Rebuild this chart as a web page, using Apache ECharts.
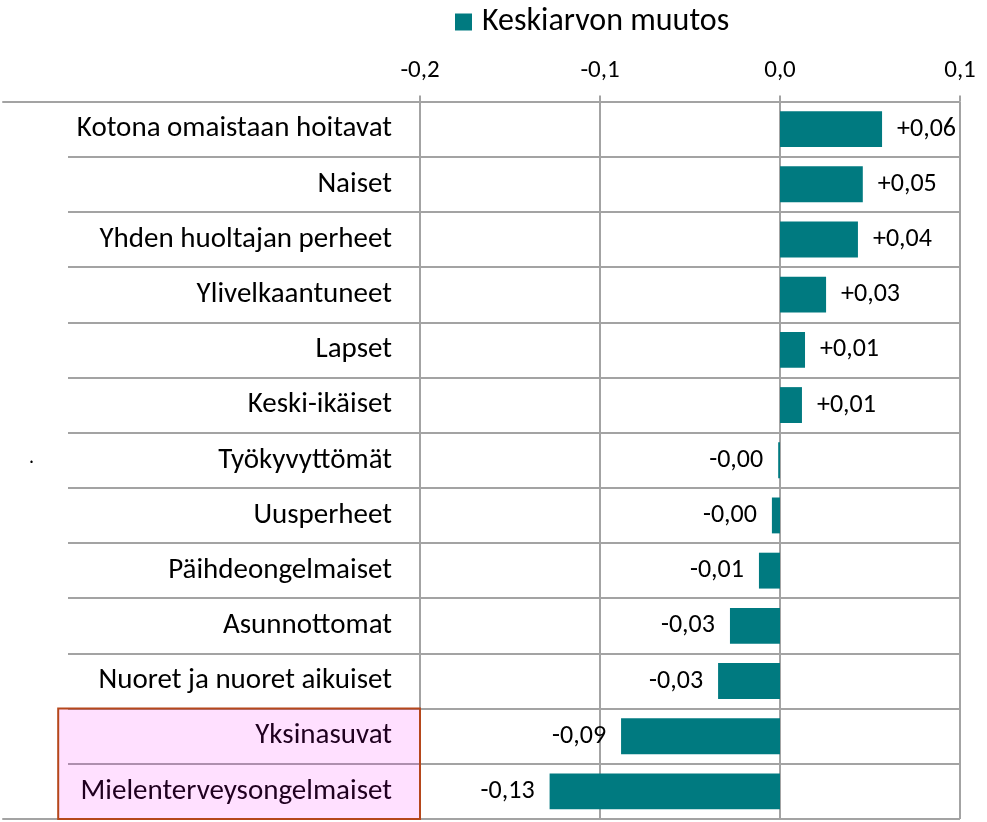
<!DOCTYPE html>
<html>
<head>
<meta charset="utf-8">
<script src="https://cdn.jsdelivr.net/npm/echarts@6/dist/echarts.min.js"></script>
<style>
  html, body { margin: 0; padding: 0; background: #fff; }
  #chart { width: 987px; height: 822px; }
</style>
</head>
<body>
<div id="chart"></div>
<script>
const categories = [
  'Kotona omaistaan hoitavat', 'Naiset', 'Yhden huoltajan perheet', 'Ylivelkaantuneet',
  'Lapset', 'Keski-ikäiset', 'Työkyvyttömät', 'Uusperheet', 'Päihdeongelmaiset',
  'Asunnottomat', 'Nuoret ja nuoret aikuiset', 'Yksinasuvat', 'Mielenterveysongelmaiset'
];
const values = [0.0567, 0.046, 0.0433, 0.0256, 0.0139, 0.0122, -0.001, -0.0045, -0.0117, -0.0278, -0.0344, -0.0883, -0.128];
const xTicks = [-0.2, -0.1, 0.0, 0.1];
const seriesName = 'Keskiarvon muutos';
const highlighted = ['Yksinasuvat', 'Mielenterveysongelmaiset'];
const highlightRange = [-0.401, -0.2];
const strayText = '.';

const FONT = "Carlito, Calibri, 'Liberation Sans', Arial, sans-serif";
const GRID_COLOR = '#a3a3a3';
const xMin = xTicks[0], xMax = xTicks[xTicks.length - 1], xStep = 0.1;
const pxPerUnit = 540 / (xMax - xMin);
const leftMin = xMin - (420 - 3) / pxPerUnit;

function fmt(v) {
  const s = v.toFixed(2).replace('.', ',');
  return v > 0 ? '+' + s : s;
}

const barData = values.map(v => ({
  value: v,
  label: { position: v >= 0 ? 'right' : 'left' }
}));

const hiStart = categories.indexOf(highlighted[0]);
const hiEnd = categories.indexOf(highlighted[highlighted.length - 1]);

const chart = echarts.init(document.getElementById('chart'), null, { renderer: 'canvas' });
const gridTop = 101.5, gridBottom = 3;

chart.setOption({
  animation: false,
  backgroundColor: '#ffffff',
  textStyle: { fontFamily: FONT },
  legend: {
    data: [seriesName],
    left: 455, top: 6, padding: 0,
    itemWidth: 17, itemHeight: 17,
    icon: 'rect',
    textStyle: { fontSize: 32, color: '#000', fontFamily: FONT, padding: [0, 0, 0, 5] }
  },
  grid: [
    { left: 420, right: 27, top: gridTop, bottom: gridBottom },
    { left: 3, width: 417, top: gridTop, bottom: gridBottom },
    { left: 68, width: 352, top: gridTop, bottom: gridBottom }
  ],
  xAxis: [
    {
      gridIndex: 0, type: 'value', position: 'top',
      min: xMin, max: xMax, interval: xStep,
      axisLine: { show: false },
      axisTick: { show: true, length: 6, lineStyle: { color: GRID_COLOR, width: 2 } },
      axisLabel: { fontSize: 25, color: '#000', margin: 18, fontFamily: FONT,
        formatter: v => v.toFixed(1).replace('.', ',') },
      splitLine: { show: true, lineStyle: { color: GRID_COLOR, width: 2 } }
    },
    {
      gridIndex: 1, type: 'value', position: 'top', min: leftMin, max: xMin,
      axisLine: { show: true, onZero: false, lineStyle: { color: GRID_COLOR, width: 2 } },
      axisTick: { show: false }, axisLabel: { show: false }, splitLine: { show: false }
    },
    {
      gridIndex: 1, type: 'value', position: 'bottom', min: leftMin, max: xMin,
      axisLine: { show: true, onZero: false, lineStyle: { color: GRID_COLOR, width: 2 } },
      axisTick: { show: false }, axisLabel: { show: false }, splitLine: { show: false }
    },
    {
      gridIndex: 2, type: 'value', min: 0, max: 1, show: false
    }
  ],
  yAxis: [
    {
      gridIndex: 0, type: 'category', data: categories, inverse: true,
      axisLine: { show: false, onZero: false },
      axisTick: { show: false },
      axisLabel: { fontSize: 29, color: '#000', margin: 28, fontFamily: FONT },
      splitLine: { show: true, lineStyle: { color: GRID_COLOR, width: 2 } }
    },
    {
      gridIndex: 1, type: 'category', data: categories, inverse: true,
      axisLine: { show: false }, axisTick: { show: false },
      axisLabel: { show: false }, splitLine: { show: false }
    },
    {
      gridIndex: 2, type: 'category', data: categories, inverse: true,
      axisLine: { show: false }, axisTick: { show: false },
      axisLabel: { show: false },
      splitLine: { show: true, lineStyle: { color: GRID_COLOR, width: 2 } }
    }
  ],
  series: [
    {
      name: seriesName, type: 'bar', xAxisIndex: 0, yAxisIndex: 0,
      data: barData,
      barWidth: '65%',
      itemStyle: { color: '#007a80' },
      label: {
        show: true, distance: 15, fontSize: 26, color: '#000', fontFamily: FONT,
        formatter: p => fmt(p.value)
      }
    },
    {
      name: 'highlight', type: 'custom', xAxisIndex: 1, yAxisIndex: 1,
      z: 10, silent: true, clip: false,
      encode: { x: [0, 1], y: [2, 3] },
      data: [[highlightRange[0], highlightRange[1], hiStart, hiEnd]],
      renderItem: function (params, api) {
        const p0 = api.coord([api.value(0), api.value(2)]);
        const p1 = api.coord([api.value(1), api.value(3)]);
        const band = api.size([0, 1])[1];
        const y0 = p0[1] - band / 2;
        const y1 = p1[1] + band / 2;
        return {
          type: 'rect',
          shape: { x: p0[0], y: y0, width: p1[0] - p0[0], height: y1 - y0 },
          style: { fill: 'rgba(255,0,255,0.12)', stroke: '#b5471b', lineWidth: 2 }
        };
      }
    }
  ],
  graphic: [
    { type: 'text', left: 29, top: 448,
      style: { text: strayText, fontSize: 20, fill: '#000', fontFamily: FONT } }
  ]
});
</script>
</body>
</html>
